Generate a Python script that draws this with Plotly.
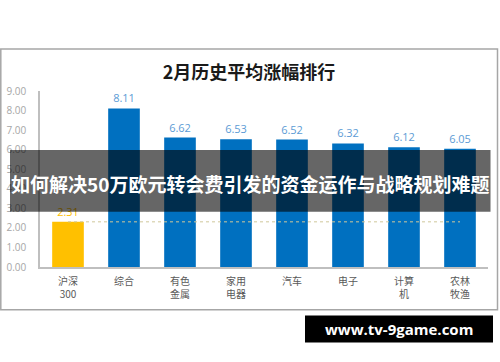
import plotly.graph_objects as go

categories = ["沪深<br>300", "综合", "有色<br>金属", "家用<br>电器", "汽车", "电子", "计算<br>机", "农林<br>牧渔"]
values = [2.31, 8.11, 6.62, 6.53, 6.52, 6.32, 6.12, 6.05]
bar_colors = ["#FFC000"] + ["#0070C0"] * 7
label_colors = ["#FFC000"] + ["#5B9BD5"] * 7
y_ticks = [0, 1, 2, 3, 4, 5, 6, 7, 8, 9]
title_text = "2月历史平均涨幅排行"
banner_text = "如何解决50万欧元转会费引发的资金运作与战略规划难题"
watermark_text = "www.tv-9game.com"

CJK = "Open Sans, Noto Sans CJK SC, sans-serif"

fig = go.Figure()

# dashed reference line at HS300 level, drawn as a trace behind the bars
fig.add_trace(go.Scatter(
    x=[0, len(categories) - 1], y=[values[0], values[0]],
    mode="lines", line=dict(color="#CFC79A", width=1, dash="3px,3px"),
    hoverinfo="skip",
))
fig.add_trace(go.Bar(
    x=list(range(len(categories))),
    y=values,
    marker=dict(color=bar_colors, line=dict(width=0)),
    text=[f"{v:.2f}" for v in values],
    textposition="outside",
    textfont=dict(color=label_colors, size=11, family=CJK),
    cliponaxis=False,
    width=0.565,
    hoverinfo="skip",
))

H = 267.3 - 91.0
def py(px):
    return (267.3 - px) / H
def pxx(px):
    return (px - 40.0) / 448.0

# outer frame
fig.add_shape(type="rect", xref="paper", yref="paper",
              x0=pxx(0.8), x1=pxx(497.5), y0=py(310), y1=py(49),
              line=dict(color="#A6A6A6", width=1.5), fillcolor="rgba(0,0,0,0)", layer="below")

# banner overlay
fig.add_shape(type="rect", xref="paper", yref="paper",
              x0=pxx(10), x1=pxx(490.5), y0=py(212), y1=py(150),
              line=dict(width=0), fillcolor="rgba(0,0,0,0.6)", layer="above")
fig.add_annotation(text=f"<b>{banner_text}</b>", xref="paper", yref="paper",
                   x=pxx(250), y=py(184), showarrow=False,
                   font=dict(color="white", size=19, family="Noto Sans CJK SC, sans-serif"),
                   xanchor="center", yanchor="middle")

# watermark
fig.add_shape(type="rect", xref="paper", yref="paper",
              x0=pxx(305), x1=pxx(493), y0=py(343), y1=py(316),
              line=dict(width=0), fillcolor="black", layer="above")
fig.add_annotation(text=f"<b>{watermark_text}</b>", xref="paper", yref="paper",
                   x=pxx(399), y=py(329.5), showarrow=False,
                   font=dict(color="white", size=15, family="Open Sans, DejaVu Sans, sans-serif"),
                   xanchor="center", yanchor="middle")

fig.update_layout(
    width=500, height=362,
    margin=dict(l=40, r=12, t=91, b=95, pad=0, autoexpand=False),
    paper_bgcolor="white", plot_bgcolor="white",
    showlegend=False,
    title=dict(text=f"<b>{title_text}</b>", x=0.498, xref="container", y=1 - 73 / 362,
               yref="container", xanchor="center", yanchor="middle",
               font=dict(size=18, color="#1a1a1a", family="Noto Sans CJK SC, sans-serif")),
    bargap=0.435,
)
fig.update_xaxes(
    tickmode="array", tickvals=list(range(len(categories))), ticktext=categories,
    range=[-0.5, len(categories) - 0.5],
    showline=True, linecolor="#BFBFBF", linewidth=1.5,
    showgrid=False, ticks="", zeroline=False, automargin=False,
    tickfont=dict(size=10, color="#595959", family="Noto Sans CJK SC, sans-serif"),
    ticklabelstandoff=4,
)
fig.update_yaxes(
    range=[0, 9], tickmode="array", tickvals=y_ticks,
    ticktext=[f"{t:.2f}" for t in y_ticks],
    showline=True, linecolor="#BFBFBF", linewidth=1.5,
    showgrid=False, zeroline=False, ticks="", automargin=False,
    tickfont=dict(size=10, color="#A6A6A6", family="Open Sans, sans-serif"),
    ticklabelstandoff=10,
)

fig.write_html("out.html", config={"displayModeBar": False},
               post_script="document.body.style.margin='0';document.body.style.padding='0';")
